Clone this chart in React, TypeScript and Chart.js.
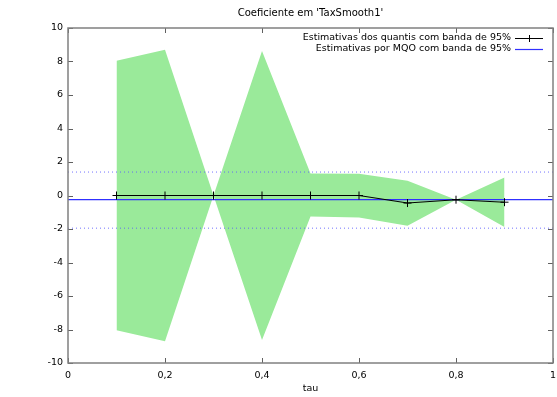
import React, { useEffect, useRef } from "react";
import { Chart, registerables } from "chart.js";

Chart.register(...registerables);

const tau = [0.1, 0.2, 0.3, 0.4, 0.5, 0.6, 0.7, 0.8, 0.9];
const quantEst = [0, 0, 0, 0, 0, 0, -0.45, -0.25, -0.4];
const bandUpper = [8.05, 8.7, 0, 8.62, 1.32, 1.3, 0.88, -0.25, 1.08];
const bandLower = [-8.05, -8.7, 0, -8.62, -1.25, -1.32, -1.8, -0.25, -1.88];
const olsEst = -0.25;
const olsUpper = 1.4;
const olsLower = -1.95;
const xRange = [0, 1];
const title = "Coeficiente em 'TaxSmooth1'";
const xTitle = "tau";
const legendLabels = [
  "Estimativas dos quantis com banda de 95%",
  "Estimativas por MQO com banda de 95%",
];

const FONT = "'DejaVu Sans', sans-serif";

const decorPlugin = {
  id: "gnuplotDecor",
  afterDraw(chart: any) {
    const { ctx, chartArea: a, scales } = chart;
    const xs = scales.x;
    const ys = scales.y;
    ctx.save();
    // ticks (inward, mirrored)
    ctx.strokeStyle = "#606060";
    ctx.lineWidth = 1;
    ctx.beginPath();
    ys.ticks.forEach((t: any) => {
      const y = Math.round(ys.getPixelForValue(t.value)) + 0.5;
      ctx.moveTo(a.left, y);
      ctx.lineTo(a.left + 5, y);
      ctx.moveTo(a.right, y);
      ctx.lineTo(a.right - 5, y);
    });
    xs.ticks.forEach((t: any) => {
      const x = Math.round(xs.getPixelForValue(t.value)) + 0.5;
      ctx.moveTo(x, a.bottom);
      ctx.lineTo(x, a.bottom - 5);
      ctx.moveTo(x, a.top);
      ctx.lineTo(x, a.top + 5);
    });
    ctx.stroke();
    // border
    ctx.strokeStyle = "#808080";
    ctx.lineWidth = 1.5;
    ctx.strokeRect(a.left, a.top, a.right - a.left, a.bottom - a.top);
    // title
    ctx.fillStyle = "#000";
    ctx.font = `10px ${FONT}`;
    ctx.textAlign = "center";
    ctx.textBaseline = "middle";
    ctx.fillText(title, (a.left + a.right) / 2, 13);
    // x title
    ctx.font = `9.5px ${FONT}`;
    ctx.fillText(xTitle, (a.left + a.right) / 2, 389);
    // legend
    ctx.textAlign = "right";
    const tx = a.right - 42;
    const rows = [38, 49];
    ctx.fillText(legendLabels[0], tx, rows[0]);
    ctx.fillText(legendLabels[1], tx, rows[1]);
    const sx0 = a.right - 38;
    const sx1 = a.right - 10;
    ctx.strokeStyle = "#000";
    ctx.lineWidth = 1;
    ctx.beginPath();
    ctx.moveTo(sx0, rows[0] + 0.5);
    ctx.lineTo(sx1, rows[0] + 0.5);
    const mx = Math.round((sx0 + sx1) / 2) + 0.5;
    ctx.moveTo(mx, rows[0] - 3);
    ctx.lineTo(mx, rows[0] + 4);
    ctx.stroke();
    ctx.strokeStyle = "#3030ff";
    ctx.lineWidth = 1.2;
    ctx.beginPath();
    ctx.moveTo(sx0, rows[1] + 0.5);
    ctx.lineTo(sx1, rows[1] + 0.5);
    ctx.stroke();
    ctx.restore();
  },
};

function fmt(v: number) {
  const r = Math.round(v * 10) / 10;
  return String(r).replace(".", ",");
}

export default function App() {
  const ref = useRef<HTMLCanvasElement | null>(null);
  useEffect(() => {
    document.body.style.margin = "0";
    const pts = (ys: number[]) => tau.map((x, i) => ({ x, y: ys[i] }));
    const flat = (v: number) => xRange.map((x) => ({ x, y: v }));
    const chart = new Chart(ref.current as HTMLCanvasElement, {
      type: "line",
      data: {
        datasets: [
          {
            label: "upper",
            data: pts(bandUpper),
            borderWidth: 0,
            borderColor: "rgba(0,0,0,0)",
            backgroundColor: "#9aea9a",
            pointRadius: 0,
            fill: "+1",
            order: 10,
          },
          {
            label: "lower",
            data: pts(bandLower),
            borderWidth: 0,
            borderColor: "rgba(0,0,0,0)",
            pointRadius: 0,
            fill: false,
            order: 10,
          },
          {
            label: "olsUpper",
            data: flat(olsUpper),
            borderColor: "rgba(90,90,255,0.85)",
            borderWidth: 1,
            borderDash: [1, 3],
            pointRadius: 0,
            fill: false,
            order: 5,
          },
          {
            label: "olsLower",
            data: flat(olsLower),
            borderColor: "rgba(90,90,255,0.85)",
            borderWidth: 1,
            borderDash: [1, 3],
            pointRadius: 0,
            fill: false,
            order: 5,
          },
          {
            label: "ols",
            data: flat(olsEst),
            borderColor: "#3030ff",
            borderWidth: 1.2,
            pointRadius: 0,
            fill: false,
            order: 4,
          },
          {
            label: "quant",
            data: pts(quantEst),
            borderColor: "#000",
            borderWidth: 1.1,
            pointStyle: "cross",
            pointRadius: 4,
            pointBorderColor: "#000",
            pointBorderWidth: 1,
            fill: false,
            order: 1,
          },
        ],
      },
      options: {
        animation: false,
        responsive: false,
        maintainAspectRatio: false,
        layout: { autoPadding: false, padding: { top: 28, right: 4, left: 0, bottom: 0 } },
        plugins: {
          legend: { display: false },
          title: { display: false },
          tooltip: { enabled: false },
        },
        scales: {
          x: {
            type: "linear",
            min: 0,
            max: 1,
            ticks: {
              stepSize: 0.2,
              callback: (v: any) => fmt(Number(v)),
              font: { family: FONT, size: 9.5 },
              color: "#000",
              padding: 7,
              maxRotation: 0,
            },
            grid: { display: false, drawTicks: false },
            border: { display: false },
            afterFit: (s: any) => {
              s.height = 34;
              s.paddingLeft = 0;
              s.paddingRight = 0;
            },
          },
          y: {
            min: -10,
            max: 10,
            ticks: {
              stepSize: 2,
              font: { family: FONT, size: 9.5 },
              color: "#000",
              padding: 5,
            },
            grid: { display: false, drawTicks: false },
            border: { display: false },
            afterFit: (s: any) => {
              s.width = 68;
              s.paddingTop = 0;
              s.paddingBottom = 0;
            },
          },
        },
      },
      plugins: [decorPlugin],
    });
    return () => chart.destroy();
  }, []);
  return (
    <div style={{ width: 557, height: 397 }}>
      <canvas ref={ref} width={557} height={397} />
    </div>
  );
}
